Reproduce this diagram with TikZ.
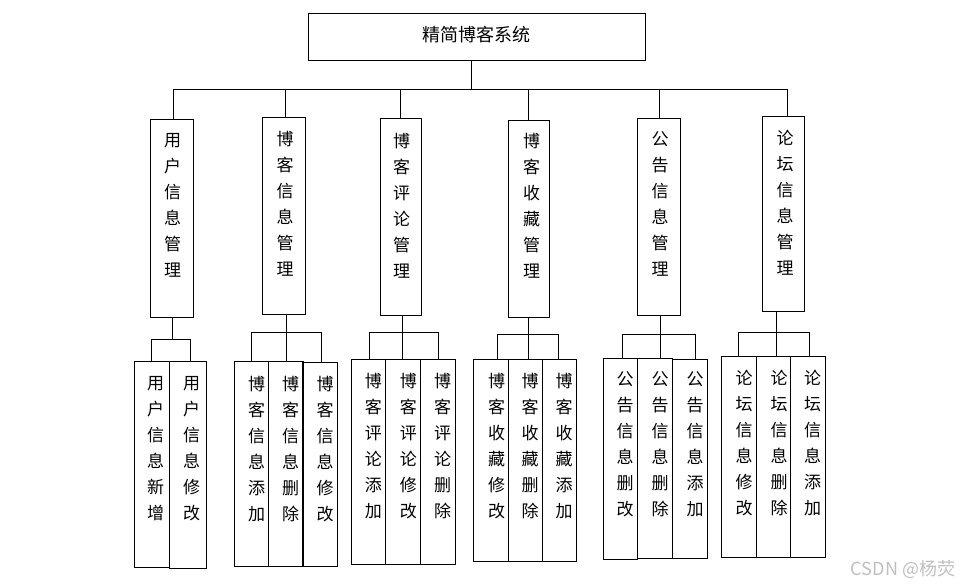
\documentclass[tikz,border=0pt]{standalone}
\usepackage{fontspec}
\newfontfamily\cjk{Noto Sans CJK SC}
\tikzset{
  box/.style={draw, line width=1pt, inner sep=0pt, outer sep=0pt},
  vtext/.style={font=\cjk\fontsize{17}{26}\selectfont, align=center, inner sep=0pt},
  conn/.style={line width=1pt},
}
\newcommand\bx[8]{%
  \node[box, anchor=north west, minimum width={(#4-#2)*1pt}, minimum height={(#5-#3)*1pt}] (#1) at (#2,#3) {};
  \node[vtext, anchor=north] at ({#6},{#7-7}) {#8};}
\newcommand\grp[8]{%
  \coordinate (#1m) at (#4,#2); \coordinate (#1l) at (#3,#2); \coordinate (#1r) at (#5,#2);
  \draw[conn] (#1m |- #1.south) -- (#1m);
  \draw[conn] (#1l) -- (#1r);
  \draw[conn] (#1l) -- (#1l |- #6.north);
  \draw[conn] (#1m) -- (#1m |- #7.north);
  \draw[conn] (#1r) -- (#1r |- #8.north);}
\begin{document}
\begin{tikzpicture}[x=1pt,y=-1pt]
\useasboundingbox (0,0) rectangle (961,587);
% root
\node[box, anchor=north west, minimum width=337pt, minimum height=47pt] (r) at (308,13) {};
\node[font=\cjk\fontsize{18}{20}\selectfont, inner sep=0pt] at (476,35) {精简博客系统};
% level 2
\bx{u}{150.3}{119.3}{193.3}{317.3}{172.7}{140}{用\\户\\信\\息\\管\\理}
\bx{b}{262.3}{117.3}{305.7}{314.3}{285}{138.3}{博\\客\\信\\息\\管\\理}
\bx{c}{380.3}{118.3}{421.7}{315.3}{401.7}{140}{博\\客\\评\\论\\管\\理}
\bx{s}{508.3}{120.3}{549.3}{317.3}{531.7}{140}{博\\客\\收\\藏\\管\\理}
\bx{g}{637.3}{118.3}{680.3}{315.3}{660}{138.3}{公\\告\\信\\息\\管\\理}
\bx{f}{762.3}{116.3}{804.3}{311}{785}{136.7}{论\\坛\\信\\息\\管\\理}
% level 3
\bx{A}{134.3}{361.7}{169.7}{567.3}{155.7}{383}{用\\户\\信\\息\\新\\增}
\bx{B}{169.7}{361.7}{206.3}{568.3}{191.7}{383}{用\\户\\信\\息\\修\\改}
\bx{C}{234.3}{361}{268.3}{566}{256.7}{383}{博\\客\\信\\息\\添\\加}
\bx{D}{268.3}{361}{303.3}{566}{290.7}{383}{博\\客\\信\\息\\删\\除}
\bx{E}{302.3}{362.3}{337.3}{566.7}{325}{383}{博\\客\\信\\息\\修\\改}
\bx{F}{351.7}{359.3}{385.7}{564.3}{373.3}{380}{博\\客\\评\\论\\添\\加}
\bx{G}{385.7}{359.3}{420.7}{564.3}{408.3}{380}{博\\客\\评\\论\\修\\改}
\bx{H}{420.7}{359.3}{455.3}{564.3}{442.7}{380}{博\\客\\评\\论\\删\\除}
\bx{I}{473.3}{359.3}{508.7}{561}{496.7}{380}{博\\客\\收\\藏\\修\\改}
\bx{J}{508.7}{359.3}{542.3}{561}{530}{380}{博\\客\\收\\藏\\删\\除}
\bx{K}{542.3}{359.3}{576}{561}{564}{380}{博\\客\\收\\藏\\添\\加}
\bx{L}{603.3}{358.3}{637.3}{559.3}{625}{378}{公\\告\\信\\息\\删\\改}
\bx{M}{637.3}{358.3}{672.3}{558.3}{660}{378}{公\\告\\信\\息\\删\\除}
\bx{N}{672.3}{359.3}{707.3}{558.3}{695}{378}{公\\告\\信\\息\\添\\加}
\bx{O}{721.7}{356.3}{756.3}{557}{744}{376.7}{论\\坛\\信\\息\\修\\改}
\bx{P}{756.3}{356.3}{790.3}{557}{779}{376.7}{论\\坛\\信\\息\\删\\除}
\bx{Q}{790.3}{356.3}{825.3}{557}{812.7}{376.7}{论\\坛\\信\\息\\添\\加}
% top connectors
\coordinate (t0) at (471.3,89.3);
\coordinate (t1) at (173.3,89.3);
\coordinate (t2) at (285.3,89.3);
\coordinate (t3) at (400.3,89.3);
\coordinate (t4) at (528.3,89.3);
\coordinate (t5) at (659.7,89.3);
\coordinate (t6) at (787.3,89.3);
\draw[conn] (t0 |- r.south) -- (t0);
\draw[conn] (t1) -- (t6);
\draw[conn] (t1) -- (t1 |- u.north);
\draw[conn] (t2) -- (t2 |- b.north);
\draw[conn] (t3) -- (t3 |- c.north);
\draw[conn] (t4) -- (t4 |- s.north);
\draw[conn] (t5) -- (t5 |- g.north);
\draw[conn] (t6) -- (t6 |- f.north);
% group 1
\coordinate (um) at (172.3,339.3); \coordinate (ul) at (151.3,339.3); \coordinate (ur) at (190.3,339.3);
\draw[conn] (um |- u.south) -- (um);
\draw[conn] (ul) -- (ur);
\draw[conn] (ul) -- (ul |- A.north);
\draw[conn] (ur) -- (ur |- B.north);
% other groups
\grp{b}{332.3}{251.7}{286.3}{321.3}{C}{D}{E}
\grp{c}{332.3}{369.3}{402.3}{438.7}{F}{G}{H}
\grp{s}{334.3}{497.3}{528.7}{558.3}{I}{J}{K}
\grp{g}{334.3}{622.3}{660.3}{695.7}{L}{M}{N}
\grp{f}{332.3}{738.3}{776.3}{809.3}{O}{P}{Q}
% watermark
\node[font=\cjk\fontsize{18}{20}\selectfont, text=black!25, inner sep=0pt] (wm) at (903,569) {CSDN @杨荧};
\end{tikzpicture}
\end{document}
